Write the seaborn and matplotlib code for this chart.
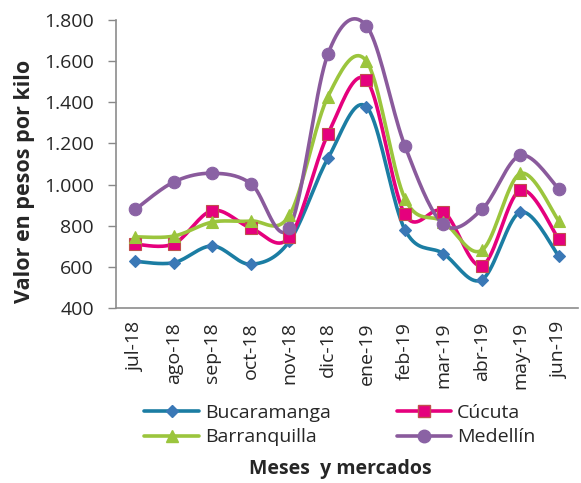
import numpy as np
import pandas as pd
import matplotlib
matplotlib.use("Agg")
import matplotlib.pyplot as plt
from matplotlib.lines import Line2D
from matplotlib.ticker import FuncFormatter
import seaborn as sns

meses = ['jul-18', 'ago-18', 'sep-18', 'oct-18', 'nov-18', 'dic-18',
         'ene-19', 'feb-19', 'mar-19', 'abr-19', 'may-19', 'jun-19']
bucaramanga = [627, 621, 702, 613, 725, 1127, 1378, 781, 665, 538, 866, 653]
cucuta = [710, 713, 874, 789, 744, 1244, 1508, 855, 869, 606, 973, 734]
barranquilla = [746, 750, 818, 823, 851, 1427, 1600, 932, 820, 681, 1054, 823]
medellin = [880, 1013, 1055, 1005, 791, 1633, 1771, 1188, 807, 879, 1142, 979]

series = {'Bucaramanga': bucaramanga, 'Cúcuta': cucuta,
          'Barranquilla': barranquilla, 'Medellín': medellin}
estilos = {
    'Bucaramanga': dict(color='#1B7DA3', mfc='#3A78B6', mec='#3A78B6', marker='D', ms=6.5),
    'Cúcuta': dict(color='#E5007D', mfc='#E5007D', mec='#C0504D', marker='s', ms=8),
    'Barranquilla': dict(color='#9BC53D', mfc='#9BC53D', mec='#9BC53D', marker='^', ms=9),
    'Medellín': dict(color='#8A5A9C', mfc='#8A62A4', mec='#8A62A4', marker='o', ms=9),
}


def suavizar(y, n=20):
    # curva tipo Excel (Catmull-Rom como Bezier) entre los puntos
    y = np.asarray(y, float)
    x = np.arange(len(y), dtype=float)
    p = np.column_stack([x, y])
    p = np.vstack([p[0], p, p[-1]])
    out = []
    t = np.linspace(0, 1, n)[:, None]
    for i in range(1, len(p) - 2):
        p0, p1, p2, p3 = p[i - 1], p[i], p[i + 1], p[i + 2]
        c1 = p1 + (p2 - p0) / 6
        c2 = p2 - (p3 - p1) / 6
        seg = ((1 - t) ** 3) * p1 + 3 * ((1 - t) ** 2) * t * c1 + 3 * (1 - t) * t ** 2 * c2 + t ** 3 * p2
        out.append(seg if i == 1 else seg[1:])
    return np.vstack(out)


sns.set_style("white")
plt.rcParams['font.family'] = ['Open Sans', 'DejaVu Sans']

fig = plt.figure(figsize=(5.81, 4.83), dpi=100)
ax = fig.add_axes([0.2, 0.362, 0.795, 0.597])

for nombre, vals in series.items():
    st = estilos[nombre]
    curva = suavizar(vals)
    df = pd.DataFrame({'x': curva[:, 0], 'y': curva[:, 1]})
    sns.lineplot(data=df, x='x', y='y', ax=ax, color=st['color'], lw=2.6,
                 sort=False, estimator=None, clip_on=False)
    pts = pd.DataFrame({'x': np.arange(len(vals)), 'y': vals})
    ax.plot(pts['x'], pts['y'], ls='none', marker=st['marker'], ms=st['ms'],
            mfc=st['mfc'], mec=st['mec'], mew=0.8, zorder=5, clip_on=False)

ax.set_xlim(-0.5, len(meses) - 0.5)
ax.set_ylim(400, 1800)
ax.set_yticks(range(400, 1801, 200))
ax.yaxis.set_major_formatter(FuncFormatter(lambda v, p: f"{int(v):,}".replace(",", ".")))
ax.set_xticks(range(len(meses)))
ax.set_xticklabels(meses, rotation=90, fontsize=14)
ax.tick_params(axis='y', labelsize=14, length=6, width=1, color='#888888', direction='out', left=True, pad=10)
ax.tick_params(axis='x', length=0, pad=10)
for s in ['top', 'right']:
    ax.spines[s].set_visible(False)
for s in ['left', 'bottom']:
    ax.spines[s].set_color('#8C8C8C')
    ax.spines[s].set_linewidth(1.2)
ax.set_xlabel('')
ax.set_ylabel('Valor en pesos por kilo', fontsize=15.5, fontweight='bold')
ax.yaxis.set_label_coords(-0.175, 0.44)

handles = []
for nombre in ['Bucaramanga', 'Barranquilla', 'Cúcuta', 'Medellín']:
    st = estilos[nombre]
    handles.append(Line2D([], [], color=st['color'], lw=2.6, marker=st['marker'], ms=st['ms'],
                          mfc=st['mfc'], mec=st['mec'], label=nombre))
fig.legend(handles=handles, ncol=2, loc='center', bbox_to_anchor=(0.585, 0.12),
           frameon=False, fontsize=14, handlelength=2.8, columnspacing=3.4,
           handletextpad=0.3, labelspacing=0.35)
fig.text(0.585, 0.018, 'Meses  y mercados', ha='center', fontsize=14, fontweight='bold')

fig.savefig('out.png', dpi=100, facecolor='white')
